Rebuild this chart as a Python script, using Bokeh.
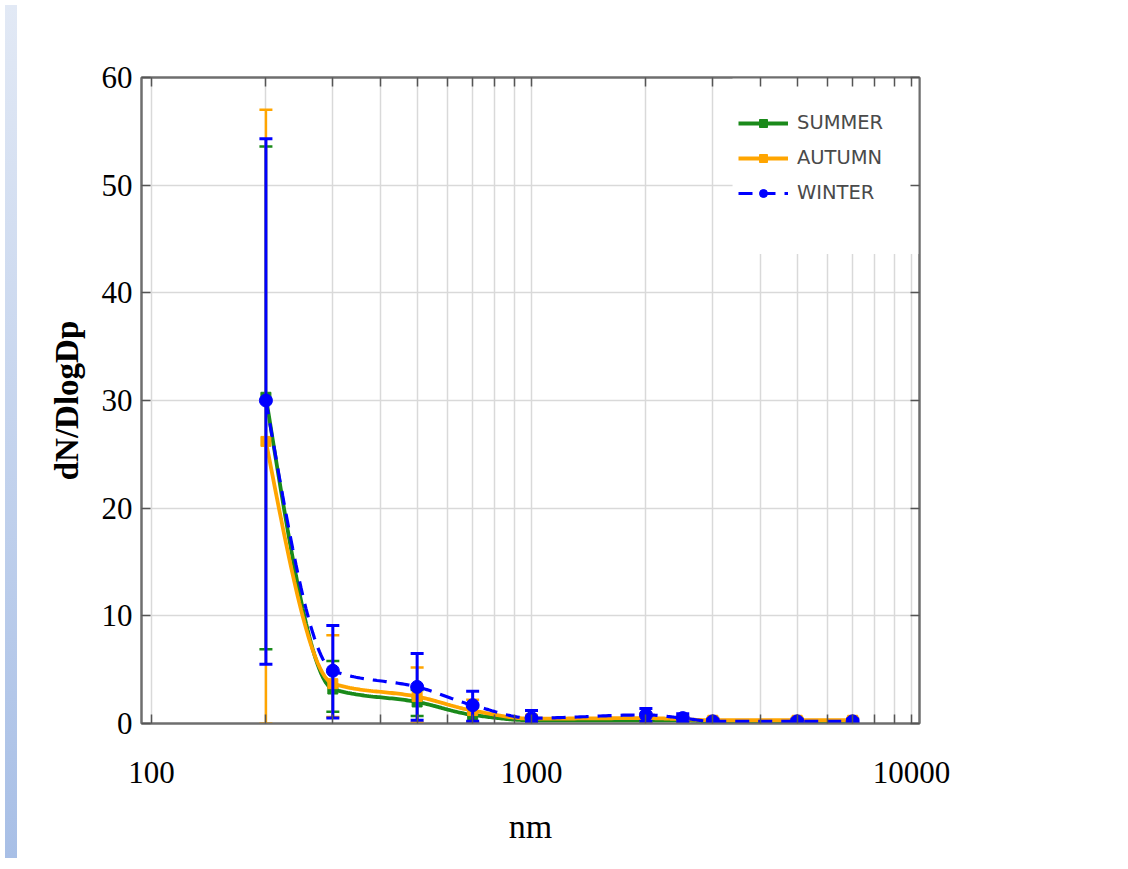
import numpy as np
from bokeh.plotting import figure
from bokeh.models import (FixedTicker, LinearAxis, LogAxis, Legend, LegendItem,
                          BoxAnnotation, Div, Range1d, NumeralTickFormatter)
from bokeh.layouts import row
from bokeh.embed import file_html
from bokeh.resources import INLINE

# ---------------- data ----------------
diam = [200, 300, 500, 700, 1000, 2000, 2500, 3000, 5000, 7000]

summer = [30.3, 3.2, 2.0, 0.8, 0.3, 0.3, 0.3, 0.2, 0.2, 0.2]
summer_lo = [6.9, 1.1, 0.7, 0.1, 0.0, 0.1, 0.1, 0.0, 0.0, 0.0]
summer_hi = [53.6, 5.8, 3.1, 1.5, 0.6, 0.6, 0.5, 0.4, 0.4, 0.4]

autumn = [26.2, 3.7, 2.5, 1.2, 0.45, 0.5, 0.4, 0.3, 0.3, 0.3]
autumn_lo = [0.0, 0.6, 0.1, 0.1, 0.1, 0.1, 0.1, 0.0, 0.0, 0.0]
autumn_hi = [57.0, 8.2, 5.2, 2.2, 0.8, 0.9, 0.7, 0.5, 0.5, 0.5]

winter = [30.0, 4.9, 3.4, 1.7, 0.5, 0.8, 0.5, 0.2, 0.2, 0.2]
winter_lo = [5.5, 0.5, 0.3, 0.2, 0.1, 0.2, 0.1, 0.0, 0.0, 0.0]
winter_hi = [54.3, 9.1, 6.5, 3.0, 1.2, 1.4, 0.9, 0.4, 0.4, 0.4]

series_names = ["SUMMER", "AUTUMN", "WINTER"]
x_major_ticks = [100, 1000, 10000]
x_minor_ticks = [200, 300, 400, 500, 600, 700, 800, 900,
                 2000, 3000, 4000, 5000, 6000, 7000, 8000, 9000]
y_ticks = [0, 10, 20, 30, 40, 50, 60]


# smooth monotone (PCHIP) rendering of the line through the data in log-x
def smooth_path(xs, ys, n=40):
    lx = np.log10(np.asarray(xs, float))
    y = np.asarray(ys, float)
    h = np.diff(lx)
    d = np.diff(y) / h
    m = np.zeros_like(y)
    for k in range(1, len(y) - 1):
        if d[k - 1] * d[k] > 0:
            w1 = 2 * h[k] + h[k - 1]
            w2 = h[k] + 2 * h[k - 1]
            m[k] = (w1 + w2) / (w1 / d[k - 1] + w2 / d[k])

    def endpoint(h0, h1, d0, d1):
        mm = ((2 * h0 + h1) * d0 - h0 * d1) / (h0 + h1)
        if np.sign(mm) != np.sign(d0):
            mm = 0.0
        elif np.sign(d0) != np.sign(d1) and abs(mm) > abs(3 * d0):
            mm = 3 * d0
        return mm

    m[0] = endpoint(h[0], h[1], d[0], d[1])
    m[-1] = endpoint(h[-1], h[-2], d[-1], d[-2])
    X, Y = [], []
    for k in range(len(h)):
        t = np.linspace(0, 1, n, endpoint=(k == len(h) - 1))
        h00 = 2 * t**3 - 3 * t**2 + 1
        h10 = t**3 - 2 * t**2 + t
        h01 = -2 * t**3 + 3 * t**2
        h11 = t**3 - t**2
        X.extend(lx[k] + t * h[k])
        Y.extend(h00 * y[k] + h10 * h[k] * m[k] + h01 * y[k + 1] + h11 * h[k] * m[k + 1])
    return list(10 ** np.array(X)), list(Y)


# ---------------- figure ----------------
p = figure(width=1100, height=853, x_axis_type="log",
           x_range=Range1d(94.1, 10497), y_range=Range1d(0, 60),
           output_backend="svg", toolbar_location=None,
           min_border_left=119, min_border_right=203,
           min_border_top=77, min_border_bottom=130)
p.background_fill_color = "white"
p.border_fill_color = "white"
p.outline_line_color = "#6e6e6e"
p.outline_line_width = 2

# axes
xt = FixedTicker(ticks=x_major_ticks, minor_ticks=x_minor_ticks)
yt = FixedTicker(ticks=y_ticks)
xa = p.xaxis[0]
xa.ticker = xt
xa.formatter = NumeralTickFormatter(format="0")
ya = p.yaxis[0]
ya.ticker = yt

for ax in (xa, ya):
    ax.axis_line_color = "#6e6e6e"
    ax.axis_line_width = 2
    ax.major_tick_line_color = "#555555"
    ax.major_tick_line_width = 1.5
    ax.major_tick_in = 9
    ax.major_tick_out = 0
    ax.major_label_text_font = "Liberation Serif"
    ax.major_label_text_font_size = "31px"
    ax.major_label_text_color = "black"
    ax.axis_label_text_font = "Liberation Serif"
    ax.axis_label_text_color = "black"

xa.minor_tick_line_color = "#555555"
xa.minor_tick_line_width = 1.5
xa.minor_tick_in = 9
xa.minor_tick_out = 0
xa.major_label_standoff = 38
xa.axis_label = "nm"
xa.axis_label_text_font_size = "34px"
xa.axis_label_text_font_style = "normal"
xa.axis_label_standoff = 22

ya.minor_tick_line_color = None
ya.major_label_standoff = 9
ya.axis_label = "dN/DlogDp"
ya.axis_label_text_font_size = "33px"
ya.axis_label_text_font_style = "bold"
ya.axis_label_standoff = 14

top = LogAxis(ticker=xt, major_label_text_alpha=0, major_label_text_font_size="2px",
              major_label_standoff=0,
              axis_line_color="#6e6e6e", axis_line_width=2,
              major_tick_line_color="#555555", major_tick_line_width=1.5,
              major_tick_in=9, major_tick_out=0,
              minor_tick_line_color="#555555", minor_tick_line_width=1.5,
              minor_tick_in=9, minor_tick_out=0)
p.add_layout(top, "above")
right = LinearAxis(ticker=yt, major_label_text_alpha=0, major_label_text_font_size="2px",
                   major_label_standoff=0,
                   axis_line_color="#6e6e6e", axis_line_width=2,
                   major_tick_line_color="#555555", major_tick_line_width=1.5,
                   major_tick_in=9, major_tick_out=0,
                   minor_tick_line_color=None)
p.add_layout(right, "right")

# grid
p.xgrid.grid_line_color = "#d9d9d9"
p.xgrid.grid_line_width = 1.5
p.xgrid.minor_grid_line_color = "#d9d9d9"
p.xgrid.minor_grid_line_width = 1.5
p.ygrid.grid_line_color = "#d9d9d9"
p.ygrid.grid_line_width = 1.5

# white backing of the legend (hides grid under it)
legend_bg = BoxAnnotation(left=3381, bottom=43.6, fill_color="white",
                          fill_alpha=1.0, line_color=None, level="underlay")
p.add_layout(legend_bg)

# ---------------- series ----------------
colors = ["#1a8a1a", "#FFA500", "#0000FF"]
vals = [summer, autumn, winter]
los = [summer_lo, autumn_lo, winter_lo]
his = [summer_hi, autumn_hi, winter_hi]
items = []
for i in range(3):
    c = colors[i]
    ew = 3 if i == 2 else 2.5
    p.segment(x0=diam, y0=los[i], x1=diam, y1=his[i], line_color=c, line_width=ew)
    p.scatter(x=diam, y=los[i], marker="dash", size=13, line_color=c, line_width=ew)
    p.scatter(x=diam, y=his[i], marker="dash", size=13, line_color=c, line_width=ew)
    sx, sy = smooth_path(diam, vals[i])
    if i == 2:
        ln = p.line(sx, sy, line_color=c, line_width=3.2, line_dash="14 9")
        mk = p.scatter(x=diam, y=vals[i], marker="circle", size=13,
                       fill_color=c, line_color=c)
    else:
        ln = p.line(sx, sy, line_color=c, line_width=3.8)
        mk = p.scatter(x=diam, y=vals[i], marker="square", size=10,
                       fill_color=c, line_color=c)
    items.append(LegendItem(label=series_names[i], renderers=[ln, mk]))

legend = Legend(items=items, location=(597, 519), orientation="vertical",
                background_fill_color="white", background_fill_alpha=0.0,
                border_line_color=None, padding=10, margin=0,
                spacing=12, glyph_width=50, glyph_height=20, label_height=20,
                label_standoff=9, label_text_font="DejaVu Sans",
                label_text_font_size="19.5px", label_text_color="#4a4a4a")
p.add_layout(legend, "center")

strip = Div(text="", width=12, height=853,
            styles={"background": "linear-gradient(to bottom, #e2e9f5, #a8bfe6)"})

layout = row(strip, p, spacing=0)

open("out.html", "w").write(file_html(layout, INLINE))
